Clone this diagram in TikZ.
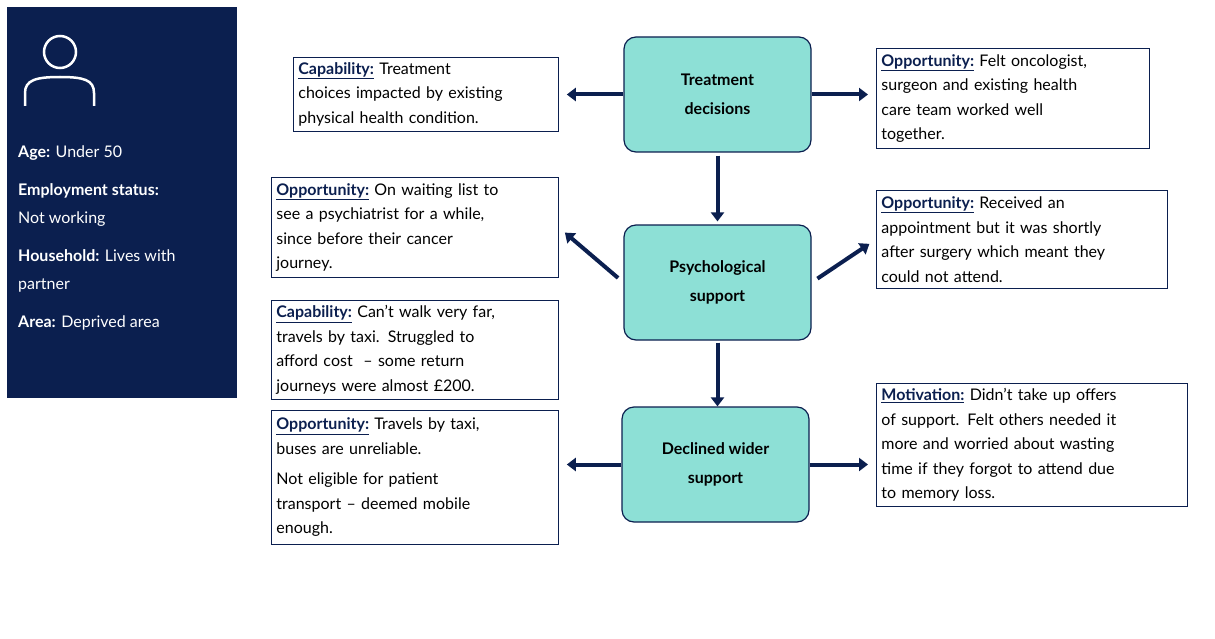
\documentclass[tikz,border=0pt]{standalone}
\usepackage{fontspec}
\setmainfont{Lato}
\usetikzlibrary{arrows.meta}
\definecolor{navy}{HTML}{0B1F4F}
\definecolor{teal}{HTML}{8DE0D6}
\newcommand{\lbl}[1]{\textcolor{navy}{\underline{\textbf{#1}}}}
\tikzset{
  stage/.style={draw=navy, line width=1.2pt, fill=teal, rounded corners=12pt,
    minimum width=187pt, minimum height=115pt, align=center,
    font=\fontsize{16}{29}\selectfont\bfseries},
  note/.style={draw=navy, line width=0.8pt, anchor=north west, align=left,
    inner sep=5pt, font=\fontsize{16}{24.5}\selectfont},
  arr/.style={draw=navy, line width=4pt, -{Triangle[length=9pt,width=13pt]}}
}
\begin{document}
\begin{tikzpicture}[x=1pt,y=-1pt]
\useasboundingbox (0,0) rectangle (1215,639);

% profile panel
\fill[navy] (7,7) rectangle (237,398);
\draw[white, line width=2.5pt] (60,52) circle (16);
\draw[white, line width=2.5pt] (25,106) -- (25,93) .. controls (25,80) and (36,77) .. (60,77)
  .. controls (84,77) and (94,80) .. (94,93) -- (94,106);
\node[anchor=north west, align=left, text=white, inner sep=0pt,
  font=\fontsize{16}{28}\selectfont] (prof) at (18,146)
  {\textbf{Age:} Under 50\\[10pt]
   \textbf{Employment status:}\\
   Not working\\[10pt]
   \textbf{Household:} Lives with\\
   partner\\[10pt]
   \textbf{Area:} Deprived area};

% main stages
\node[stage] (treat) at (717.5,94.5) {Treatment\\decisions};
\node[stage] (psych) at (717.5,282.5) {Psychological\\support};
\node[stage] (decl) at (715.5,464.5) {Declined wider\\support};

% notes
\node[note, text width=255pt, minimum height=74pt] (cap1) at (293,57)
  {\lbl{Capability:} Treatment\\choices impacted by existing\\physical health condition.};
\node[note, text width=263pt, minimum height=100pt] (opp1) at (876,48)
  {\lbl{Opportunity:} Felt oncologist,\\surgeon and existing health\\care team worked well\\together.};
\node[note, text width=277pt, minimum height=100pt] (opp2) at (271,177)
  {\lbl{Opportunity:} On waiting list to\\see a psychiatrist for a while,\\since before their cancer\\journey.};
\node[note, text width=281pt, minimum height=98pt] (opp3) at (876,190)
  {\lbl{Opportunity:} Received an\\appointment but it was shortly\\after surgery which meant they\\could not attend.};
\node[note, text width=277pt, minimum height=99pt] (cap2) at (271,300)
  {\lbl{Capability:} Can't walk very far,\\travels by taxi. Struggled to\\afford cost\ \ -- some return\\journeys were almost £200.};
\node[note, text width=277pt, minimum height=134pt] (opp4) at (271,410)
  {\lbl{Opportunity:} Travels by taxi,\\buses are unreliable.\\[6pt]Not eligible for patient\\transport -- deemed mobile\\enough.};
\node[note, text width=301pt, minimum height=123pt] (mot) at (876,383)
  {\lbl{Motivation:} Didn't take up offers\\of support. Felt others needed it\\more and worried about wasting\\time if they forgot to attend due\\to memory loss.};

% arrows
\draw[arr, shorten >=8pt] (treat.west) -- (treat.west -| cap1.east);
\draw[arr, shorten >=8pt] (treat.east) -- (treat.east -| opp1.west);
\draw[arr, shorten <=3pt, shorten >=3pt] (treat.south) -- (psych.north);
\draw[arr, shorten <=7pt, shorten >=8pt] (psych.west) -- (opp2.east);
\draw[arr, shorten <=7pt, shorten >=8pt] (psych.east) -- (opp3.west);
\draw[arr, shorten <=2pt] (psych.south) -- (decl.north -| psych.south);
\draw[arr, shorten >=8pt] (decl.west) -- (decl.west -| opp4.east);
\draw[arr, shorten >=8pt] (decl.east) -- (decl.east -| mot.west);
\end{tikzpicture}
\end{document}
